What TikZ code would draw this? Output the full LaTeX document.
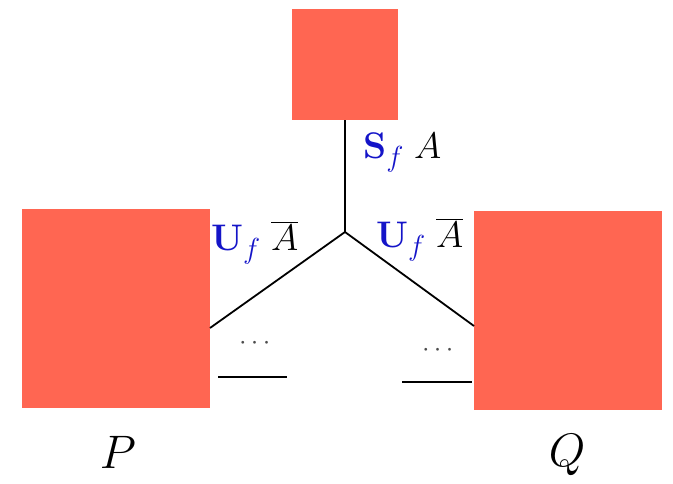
\RequirePackage{fix-cm}
\documentclass[tikz,border=0pt]{standalone}
\usepackage{amsmath}
\DeclareMathSizes{37}{37}{29}{22}
\definecolor{boxred}{RGB}{255,102,82}
\definecolor{labblue}{RGB}{20,20,200}
\begin{document}
\begin{tikzpicture}[x=1pt,y=-1pt,
  box/.style={fill=boxred,draw=none,inner sep=0pt},
  wire/.style={line width=1.8pt,black},
  lab/.style={inner sep=0pt,font=\fontsize{37}{44}\selectfont},
  big/.style={inner sep=0pt,font=\fontsize{47}{54}\selectfont},
  dots/.style={inner sep=0pt,text=black!70,font=\fontsize{27}{32}\selectfont}]
\useasboundingbox (0,0) rectangle (673,484);
\node[box,minimum width=106pt,minimum height=111pt] (top) at (345,64.5) {};
\node[box,minimum width=188pt,minimum height=199pt] (left) at (116,308.5) {};
\node[box,minimum width=188pt,minimum height=199pt] (right) at (568,310.5) {};
\coordinate (j) at (345,232);
\coordinate (le) at (210,328);
\coordinate (re) at (474,326);
\coordinate (la) at (218,377);
\coordinate (lb) at (287,377);
\coordinate (ra) at (402,382);
\coordinate (rb) at (472,382);
\draw[wire] (top.south) -- (j);
\draw[wire] (j) -- (le);
\draw[wire] (j) -- (re);
\draw[wire] (la) -- (lb);
\draw[wire] (ra) -- (rb);
\node[lab,anchor=base west] (sl) at (363,159) {$\textcolor{labblue}{\mathbf{S}_f}\;A$};
\node[lab,anchor=base west] (ul) at (211,251) {$\textcolor{labblue}{\mathbf{U}_f}\;\overline{A}$};
\node[lab,anchor=base west] (ur) at (376,248) {$\textcolor{labblue}{\mathbf{U}_f}\;\overline{A}$};
\node[dots] (dl) at (257,343) {$\cdots$};
\node[dots] (dr) at (440,350) {$\cdots$};
\node[big] (p) at (118,452) {$P$};
\node[big] (q) at (567,455) {$Q$};
\end{tikzpicture}
\end{document}
